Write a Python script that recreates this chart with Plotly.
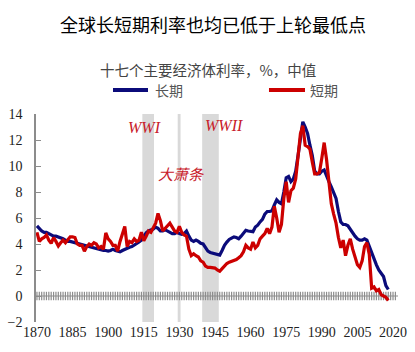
import plotly.graph_objects as go

years = list(range(1870, 2019))

long_rate = [
    5.4, 5.2, 5.0, 4.9, 4.9, 4.8, 4.7, 4.6, 4.6, 4.55,   # 1870-1879
    4.5, 4.4, 4.3, 4.2, 4.2, 4.15, 4.1, 4.0, 3.95, 3.9,  # 1880-1889
    3.85, 3.8, 3.8, 3.75, 3.7, 3.6, 3.55, 3.5, 3.5, 3.5, # 1890-1899
    3.45, 3.5, 3.6, 3.5, 3.45, 3.4, 3.5, 3.6, 3.7, 3.75, # 1900-1909
    3.8, 3.9, 4.0, 4.15, 4.3, 4.6, 4.85, 5.0, 5.05, 5.15,# 1910-1919
    5.3, 5.2, 5.0, 5.0, 5.1, 5.0, 4.9, 4.8, 4.8, 4.9,    # 1920-1929
    4.8, 4.75, 4.8, 5.0, 4.6, 4.3, 4.2, 4.3, 4.2, 4.05,  # 1930-1939
    4.0, 3.7, 3.45, 3.35, 3.3, 3.25, 3.2, 3.15, 3.5, 3.9,# 1940-1949
    4.15, 4.35, 4.45, 4.55, 4.5, 4.4, 4.6, 4.85, 5.05, 5.0, # 1950-1959
    4.95, 4.95, 5.3, 5.45, 5.7, 5.9, 6.3, 6.5, 6.5, 6.55,   # 1960-1969
    7.0, 7.4, 7.2, 7.1, 8.0, 9.1, 9.2, 8.8, 9.0, 9.6,       # 1970-1979
    10.8, 12.3, 13.4, 13.0, 12.5, 11.6, 10.8, 9.6, 9.4, 9.4,# 1980-1989
    9.6, 9.7, 9.2, 8.8, 8.4, 8.0, 7.5, 6.5, 5.7, 5.5,       # 1990-1999
    5.5, 5.4, 5.1, 4.9, 4.6, 4.4, 4.3, 4.3, 4.4, 4.3,       # 2000-2009
    3.8, 3.3, 2.9, 2.4, 2.0, 1.7, 1.5, 0.8, 0.5,            # 2010-2018
]

short_rate = [
    4.9, 4.2, 4.4, 4.5, 4.7, 4.3, 4.05, 4.5, 4.2, 3.85,     # 1870-1879
    4.1, 4.3, 4.1, 4.3, 4.55, 4.55, 4.5, 4.0, 3.9, 3.9,     # 1880-1889
    3.45, 3.8, 4.0, 3.9, 4.1, 4.0, 3.7, 3.8, 3.6, 4.85,     # 1890-1899
    4.4, 4.2, 3.9, 3.9, 3.45, 4.2, 4.8, 5.35, 3.8, 4.2,     # 1900-1909
    4.1, 4.4, 4.2, 4.3, 4.9, 4.25, 4.6, 5.0, 4.9, 5.2,      # 1910-1919
    5.6, 6.35, 5.8, 5.0, 5.2, 5.4, 5.6, 5.3, 5.0, 4.9,      # 1920-1929
    5.35, 4.9, 4.7, 4.6, 3.6, 3.1, 3.25, 3.1, 3.0, 2.7,     # 1930-1939
    2.6, 2.3, 2.2, 2.2, 2.2, 2.15, 2.0, 1.9, 2.1, 2.35,     # 1940-1949
    2.5, 2.6, 2.65, 2.7, 2.8, 2.95, 3.1, 3.4, 3.9, 3.7,     # 1950-1959
    3.6, 4.15, 3.7, 3.9, 4.4, 4.6, 4.8, 5.2, 4.8, 5.3,      # 1960-1969
    6.9, 6.0, 4.9, 5.5, 7.5, 8.8, 7.2, 8.1, 8.3, 9.0,       # 1970-1979
    11.0, 12.5, 13.1, 11.6, 11.5, 11.3, 10.3, 9.4, 9.4, 9.5,# 1980-1989
    10.6, 11.8, 10.5, 8.8, 7.1, 6.3, 5.6, 4.5, 3.7, 4.3,    # 1990-1999
    3.1, 3.9, 4.4, 3.6, 3.0, 2.4, 2.2, 2.7, 3.8, 4.1,       # 2000-2009
    3.2, 0.6, 0.7, 0.4, 0.5, 0.1, 0.0, -0.1, -0.35,         # 2010-2018
]

period_names = ["WWI", "大萧条", "WWII"]
period_start = [1914.4, 1929.3, 1939.6]
period_end = [1919.3, 1930.5, 1946.6]

x_ticks = [1870, 1885, 1900, 1915, 1930, 1945, 1960, 1975, 1990, 2005, 2020]
y_ticks = [-2, 0, 2, 4, 6, 8, 10, 12, 14]

title_text = "全球长短期利率也均已低于上轮最低点"
subtitle_text = "十七个主要经济体利率，%，中值"
series_names = ["长期", "短期"]

BLUE = "#0b0b7a"
RED = "#cc0000"
SERIF = "Liberation Serif, Times New Roman, serif"
CJK = "Noto Sans CJK SC"

fig = go.Figure()

# hatched zero axis (yearly tick marks)
hatch_years = list(range(1870, 2022))
fig.add_trace(go.Scatter(
    x=hatch_years, y=[0] * len(hatch_years), mode="markers",
    marker=dict(symbol="line-ns", size=6, line=dict(color="#8c8c8c", width=1.2)),
    hoverinfo="skip", showlegend=False))

fig.add_trace(go.Scatter(x=years, y=long_rate, mode="lines", name=series_names[0],
                         line=dict(color=BLUE, width=3.2), showlegend=False))
fig.add_trace(go.Scatter(x=years, y=short_rate, mode="lines", name=series_names[1],
                         line=dict(color=RED, width=3.2), showlegend=False))

shapes = []
for s, e in zip(period_start, period_end):
    shapes.append(dict(type="rect", xref="x", yref="y", x0=s, x1=e, y0=-2, y1=14,
                       fillcolor="#d9d9d9", line=dict(width=0), layer="below"))
shapes.append(dict(type="line", xref="x", yref="y", x0=1869.6, x1=2022.1, y0=0, y1=0,
                   line=dict(color="#8c8c8c", width=1), layer="below"))
# legend lines
shapes.append(dict(type="line", xref="paper", yref="paper", x0=0.2127, x1=0.3094,
                   y0=1.1148, y1=1.1148, line=dict(color=BLUE, width=4)))
shapes.append(dict(type="line", xref="paper", yref="paper", x0=0.6436, x1=0.7431,
                   y0=1.1148, y1=1.1148, line=dict(color=RED, width=4)))

annotations = [
    dict(text=title_text, xref="paper", yref="paper", x=0.49, y=1.435, showarrow=False,
         font=dict(family=CJK, size=18, color="#000000"), xanchor="center", yanchor="middle"),
    dict(text=subtitle_text, xref="paper", yref="paper", x=0.475, y=1.215, showarrow=False,
         font=dict(family=CJK, size=14.5, color="#444444"), xanchor="center", yanchor="middle"),
    dict(text=series_names[0], xref="paper", yref="paper", x=0.322, y=1.1148, showarrow=False,
         font=dict(family=CJK, size=14, color="#555555"), xanchor="left", yanchor="middle"),
    dict(text=series_names[1], xref="paper", yref="paper", x=0.751, y=1.1148, showarrow=False,
         font=dict(family=CJK, size=14, color="#555555"), xanchor="left", yanchor="middle"),
    dict(text="<i>" + period_names[0] + "</i>", xref="x", yref="y", x=1915.5, y=13.0,
         showarrow=False, font=dict(family=SERIF, size=16, color="#c8202a")),
    dict(text="<i>" + period_names[1] + "</i>", xref="x", yref="y", x=1930.5, y=9.4,
         showarrow=False, font=dict(family=CJK, size=15, color="#c8202a")),
    dict(text="<i>" + period_names[2] + "</i>", xref="x", yref="y", x=1949, y=13.1,
         showarrow=False, font=dict(family=SERIF, size=16, color="#c8202a")),
]

fig.update_layout(
    width=415, height=352,
    margin=dict(l=36, r=17, t=114, b=30),
    paper_bgcolor="white", plot_bgcolor="white",
    showlegend=False,
    shapes=shapes, annotations=annotations,
    xaxis=dict(range=[1869.6, 2022.1], tickvals=x_ticks, ticktext=[str(t) for t in x_ticks],
               showgrid=False, zeroline=False, showline=False, ticks="", automargin=False,
               tickfont=dict(family=SERIF, size=14, color="#222222")),
    yaxis=dict(range=[-2, 14], tickvals=y_ticks, showgrid=False, zeroline=False,
               showline=True, linecolor="#8c8c8c", linewidth=1.5, ticks="inside",
               ticklen=5, tickcolor="#8c8c8c", ticklabelstandoff=9, automargin=False,
               tickfont=dict(family=SERIF, size=14, color="#222222")),
)

fig.write_html("out.html")
